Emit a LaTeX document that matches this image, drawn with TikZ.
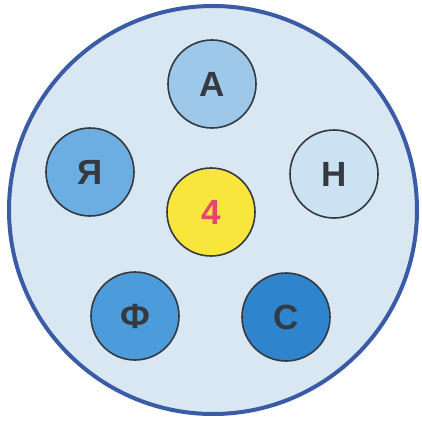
\documentclass[tikz,border=0pt]{standalone}
\usepackage{fontspec}
\setmainfont{Liberation Sans}
\definecolor{bgblue}{HTML}{D8E7F2}
\definecolor{rimblue}{HTML}{3A5BA6}
\definecolor{cA}{HTML}{9EC8E9}
\definecolor{cYa}{HTML}{6CAEE1}
\definecolor{cN}{HTML}{CBE2F2}
\definecolor{cF}{HTML}{4C9CDC}
\definecolor{cS}{HTML}{2E85CE}
\definecolor{cYel}{HTML}{F8E63C}
\definecolor{cRed}{HTML}{E6456C}
\definecolor{ink}{HTML}{363A40}
\tikzset{
  ball/.style={circle, draw=ink, line width=1.6pt, minimum size=88pt, inner sep=0pt,
    font=\fontsize{35}{35}\selectfont\bfseries, text=ink}
}
\begin{document}
\begin{tikzpicture}[x=1pt,y=-1pt]
\useasboundingbox (0,0) rectangle (422,423);
\node[circle, draw=rimblue, fill=bgblue, line width=4pt, minimum size=408pt, inner sep=0pt] (big) at (213,210) {};
\node[ball, fill=cA] (a) at (212,84) {А};
\node[ball, fill=cYa] (ya) at (90,172) {Я};
\node[ball, fill=cN] (n) at (334,174) {Н};
\node[ball, fill=cYel, text=cRed] (four) at (211,212) {4};
\node[ball, fill=cF] (f) at (135,316) {Ф};
\node[ball, fill=cS] (s) at (286,317) {С};
\end{tikzpicture}
\end{document}
